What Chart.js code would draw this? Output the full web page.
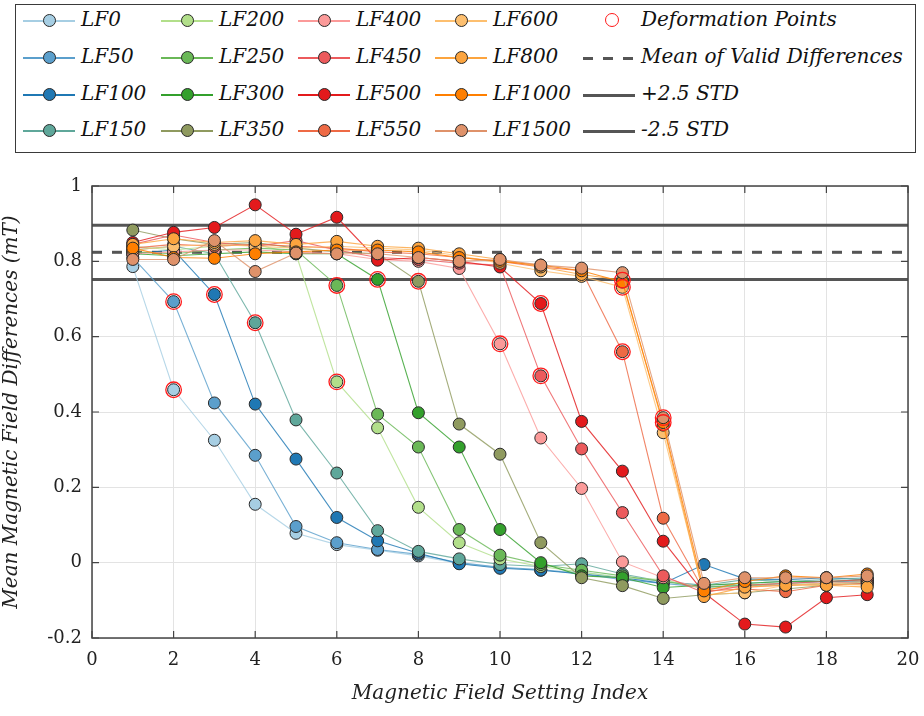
<!DOCTYPE html>
<html lang="en">
<head>
  <meta charset="UTF-8" />
  <title>Mean Magnetic Field Differences</title>
  <script src="https://cdn.jsdelivr.net/npm/chart.js"></script>
  <style>
    body {
      margin: 0;
      background: #ffffff;
      font-family: 'DejaVu Serif', serif;
    }
    .wrap {
      position: relative;
      width: 924px;
      height: 716px;
    }
    canvas {
      position: absolute;
      left: 0;
      top: 0;
    }
    .legend {
      position: absolute;
      left: 15px;
      top: 4px;
      width: 899px;
      height: 147px;
      border: 1px solid #3a3a3a;
      background: #fff;
    }
    .item {
      position: absolute;
      height: 30px;
      font-style: italic;
      font-size: 20px;
      color: #111;
      white-space: nowrap;
    }
    .item .ln {
      position: absolute;
      top: 14px;
      left: 0;
      width: 52px;
      height: 2px;
    }
    .item .dot {
      position: absolute;
      top: 8px;
      left: 20px;
      width: 11px;
      height: 11px;
      border-radius: 50%;
      border: 1px solid #2a2a2a;
    }
    .item .txt {
      position: absolute;
      left: 58px;
      top: 1px;
    }
  </style>
</head>
<body>
<div class="wrap">
  <canvas id="chart" width="924" height="716"></canvas>
  <div class="legend" id="legend"></div>
</div>

<script>
  // x positions (setting index)
  const settingIdx = [1, 2, 3, 4, 5, 6, 7, 8, 9, 10, 11, 12, 13, 14, 15, 16, 17, 18, 19];

  const seriesNames = ['LF0', 'LF50', 'LF100', 'LF150', 'LF200', 'LF250', 'LF300', 'LF350',
                       'LF400', 'LF450', 'LF500', 'LF550', 'LF600', 'LF800', 'LF1000', 'LF1500'];

  const seriesColors = ['#a6cee3', '#5b9fcc', '#1f78b4', '#5fa79a', '#b2df8a', '#6ab857', '#33a02c', '#8f9a5f',
                        '#fb9a99', '#ec5a5c', '#e31a1c', '#ee6a45', '#fdbf6f', '#fca43e', '#ff7f00', '#df926a'];

  const lf0    = [0.786, 0.459, 0.325, 0.155, 0.078, 0.048, 0.033, 0.018, -0.002, -0.013, -0.020, -0.025, -0.040, -0.050, -0.060, -0.055, -0.050, -0.050, -0.045];
  const lf50   = [0.810, 0.693, 0.424, 0.285, 0.096, 0.053, 0.035, 0.022, 0.000, -0.012, -0.018, -0.030, -0.045, -0.055, -0.065, -0.060, -0.055, -0.050, -0.050];
  const lf100  = [0.820, 0.830, 0.712, 0.421, 0.275, 0.120, 0.058, 0.025, -0.003, -0.015, -0.020, -0.030, -0.040, -0.055, -0.005, -0.043, -0.045, -0.040, -0.045];
  const lf150  = [0.830, 0.840, 0.820, 0.637, 0.379, 0.238, 0.085, 0.030, 0.010, -0.005, -0.010, -0.003, -0.030, -0.050, -0.060, -0.045, -0.050, -0.045, -0.040];
  const lf200  = [0.840, 0.830, 0.840, 0.845, 0.820, 0.480, 0.358, 0.147, 0.053, 0.010, -0.010, -0.025, -0.040, -0.045, -0.070, -0.060, -0.055, -0.060, -0.050];
  const lf250  = [0.825, 0.820, 0.830, 0.835, 0.830, 0.736, 0.394, 0.307, 0.088, 0.020, -0.005, -0.020, -0.035, -0.050, -0.065, -0.060, -0.060, -0.055, -0.050];
  const lf300  = [0.820, 0.815, 0.820, 0.825, 0.820, 0.820, 0.752, 0.398, 0.307, 0.088, 0.000, -0.035, -0.040, -0.066, -0.060, -0.055, -0.050, -0.050, -0.045];
  const lf350  = [0.883, 0.860, 0.845, 0.850, 0.835, 0.825, 0.820, 0.747, 0.368, 0.288, 0.053, -0.040, -0.061, -0.095, -0.085, -0.080, -0.070, -0.060, -0.055];
  const lf400  = [0.820, 0.825, 0.830, 0.830, 0.825, 0.820, 0.805, 0.800, 0.781, 0.581, 0.331, 0.197, 0.002, -0.040, -0.070, -0.065, -0.060, -0.055, -0.050];
  const lf450  = [0.845, 0.870, 0.850, 0.840, 0.855, 0.830, 0.810, 0.805, 0.795, 0.790, 0.496, 0.302, 0.133, -0.035, -0.080, -0.060, -0.055, -0.050, -0.045];
  const lf500  = [0.850, 0.877, 0.890, 0.950, 0.872, 0.917, 0.803, 0.810, 0.800, 0.785, 0.688, 0.375, 0.243, 0.057, -0.080, -0.163, -0.171, -0.093, -0.085];
  const lf550  = [0.835, 0.845, 0.840, 0.845, 0.840, 0.835, 0.825, 0.820, 0.810, 0.800, 0.785, 0.775, 0.560, 0.118, -0.075, -0.070, -0.077, -0.060, -0.055];
  const lf600  = [0.830, 0.840, 0.845, 0.840, 0.835, 0.840, 0.835, 0.830, 0.815, 0.795, 0.775, 0.760, 0.731, 0.345, -0.085, -0.080, -0.060, -0.055, -0.060];
  const lf800  = [0.845, 0.860, 0.850, 0.855, 0.845, 0.853, 0.840, 0.835, 0.820, 0.805, 0.785, 0.765, 0.750, 0.365, -0.090, -0.065, -0.060, -0.060, -0.065];
  const lf1000 = [0.835, 0.810, 0.808, 0.820, 0.825, 0.830, 0.830, 0.825, 0.810, 0.800, 0.790, 0.775, 0.745, 0.372, -0.075, -0.050, -0.035, -0.040, -0.030];
  const lf1500 = [0.805, 0.805, 0.855, 0.773, 0.822, 0.820, 0.820, 0.810, 0.800, 0.805, 0.790, 0.782, 0.770, 0.385, -0.055, -0.040, -0.040, -0.040, -0.035];

  const seriesValues = [lf0, lf50, lf100, lf150, lf200, lf250, lf300, lf350,
                        lf400, lf450, lf500, lf550, lf600, lf800, lf1000, lf1500];

  // setting index where each series is flagged as deformed
  const deformAt = [2, 2, 3, 4, 6, 6, 7, 8, 10, 11, 11, 13, 13, 13, 14, 14];

  const meanValid = 0.824;
  const stdValid = 0.0288;
  const xTicks = [0, 2, 4, 6, 8, 10, 12, 14, 16, 18, 20];

  const datasets = [];
  seriesValues.forEach((vals, i) => {
    datasets.push({
      label: seriesNames[i],
      data: vals.map((v, j) => ({ x: settingIdx[j], y: v })),
      borderColor: seriesColors[i] + 'd0',
      borderWidth: 1.1,
      pointRadius: 6,
      pointBackgroundColor: seriesColors[i],
      pointBorderColor: '#2a2a2a',
      pointBorderWidth: 1,
      order: 100 - i
    });
  });

  datasets.push({
    label: 'Deformation Points',
    data: seriesValues.map((vals, i) => ({ x: deformAt[i], y: vals[deformAt[i] - 1] })),
    showLine: false,
    pointRadius: 7.8,
    pointBackgroundColor: 'rgba(0,0,0,0)',
    pointBorderColor: '#ff1a1a',
    pointBorderWidth: 1.3,
    order: 0
  });

  const refLines = [
    { label: 'Mean of Valid Differences', y: meanValid, dash: [10, 10] },
    { label: '+2.5 STD', y: meanValid + 2.5 * stdValid, dash: [] },
    { label: '-2.5 STD', y: meanValid - 2.5 * stdValid, dash: [] }
  ];
  refLines.forEach(r => {
    datasets.push({
      label: r.label,
      data: [{ x: 0, y: r.y }, { x: 20, y: r.y }],
      borderColor: '#555555',
      borderWidth: 3,
      borderDash: r.dash,
      pointRadius: 0,
      order: 200
    });
  });

  // box around the axes with inward ticks, MATLAB style
  const boxPlugin = {
    id: 'axesBox',
    afterDatasetsDraw(chart) {
      const { ctx, chartArea: a, scales } = chart;
      ctx.save();
      ctx.strokeStyle = '#444';
      ctx.lineWidth = 1.5;
      ctx.strokeRect(a.left, a.top, a.right - a.left, a.bottom - a.top);
      ctx.lineWidth = 1.2;
      ctx.beginPath();
      xTicks.forEach(t => {
        const px = scales.x.getPixelForValue(t);
        ctx.moveTo(px, a.bottom); ctx.lineTo(px, a.bottom - 7);
        ctx.moveTo(px, a.top); ctx.lineTo(px, a.top + 7);
      });
      scales.y.ticks.forEach(t => {
        const py = scales.y.getPixelForValue(t.value);
        ctx.moveTo(a.left, py); ctx.lineTo(a.left + 7, py);
        ctx.moveTo(a.right, py); ctx.lineTo(a.right - 7, py);
      });
      ctx.stroke();
      ctx.restore();
    }
  };

  const tickFont = { family: "'DejaVu Serif', serif", size: 18 };
  const titleFont = { family: "'DejaVu Serif', serif", size: 20, style: 'italic' };

  new Chart(document.getElementById('chart'), {
    type: 'line',
    data: { datasets },
    options: {
      responsive: false,
      animation: false,
      devicePixelRatio: 1,
      layout: { padding: { top: 186, right: 16, left: 0, bottom: 0 } },
      plugins: { legend: { display: false }, tooltip: { enabled: false } },
      scales: {
        x: {
          type: 'linear',
          min: 0,
          max: 20,
          afterFit: s => { s.height = 78; s.paddingLeft = 0; s.paddingRight = 0; },
          afterBuildTicks: s => { s.ticks = xTicks.map(v => ({ value: v })); },
          ticks: { font: tickFont, color: '#222', padding: 12, maxRotation: 0 },
          grid: { color: '#e3e3e3', drawTicks: false },
          border: { display: false },
          title: { display: true, text: 'Magnetic Field Setting Index', font: titleFont, color: '#222', padding: { top: 4, bottom: 10 } }
        },
        y: {
          min: -0.2,
          max: 1,
          afterFit: s => { s.width = 92; s.paddingTop = 0; s.paddingBottom = 0; },
          ticks: {
            stepSize: 0.2,
            font: tickFont,
            color: '#222',
            padding: 10,
            callback: v => String(+v.toFixed(1))
          },
          grid: { color: '#e3e3e3', drawTicks: false },
          border: { display: false },
          title: { display: true, text: 'Mean Magnetic Field Differences (mT)', font: titleFont, color: '#222', padding: { top: 0, bottom: 6 } }
        }
      }
    },
    plugins: [boxPlugin]
  });

  // legend laid out in columns like the original figure
  const legend = document.getElementById('legend');
  const colX = [7, 145, 282, 419, 567];
  const rowY = [1, 38, 75, 111];
  function addItem(col, row, text, draw) {
    const el = document.createElement('div');
    el.className = 'item';
    el.style.left = colX[col] + 'px';
    el.style.top = rowY[row] + 'px';
    draw(el);
    const t = document.createElement('span');
    t.className = 'txt';
    t.textContent = text;
    el.appendChild(t);
    legend.appendChild(el);
  }
  seriesNames.forEach((name, i) => {
    const col = Math.floor(i / 4), row = i % 4;
    addItem(col, row, name, el => {
      const ln = document.createElement('div');
      ln.className = 'ln';
      ln.style.background = seriesColors[i];
      const dot = document.createElement('div');
      dot.className = 'dot';
      dot.style.background = seriesColors[i];
      el.appendChild(ln);
      el.appendChild(dot);
    });
  });
  addItem(4, 0, 'Deformation Points', el => {
    const dot = document.createElement('div');
    dot.className = 'dot';
    dot.style.border = '1.3px solid #ff1a1a';
    dot.style.left = '22px';
    dot.style.width = '12px';
    dot.style.height = '12px';
    dot.style.top = '7px';
    el.appendChild(dot);
  });
  refLines.forEach((r, k) => {
    addItem(4, k + 1, r.label, el => {
      const ln = document.createElement('div');
      ln.className = 'ln';
      ln.style.height = '3px';
      ln.style.top = '14px';
      ln.style.background = r.dash.length
        ? 'repeating-linear-gradient(90deg, #555 0 10px, transparent 10px 20px)'
        : '#555';
      el.appendChild(ln);
    });
  });
</script>
</body>
</html>
